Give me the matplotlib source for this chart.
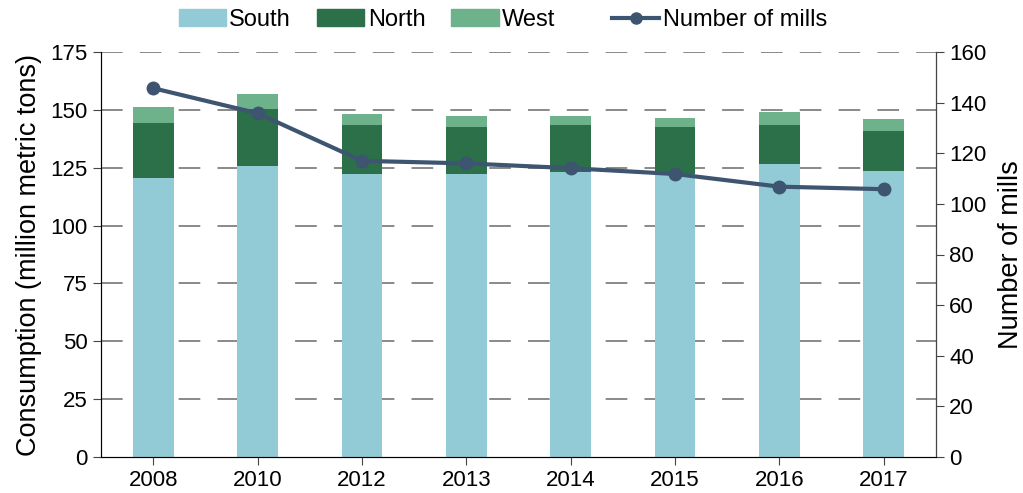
import matplotlib.pyplot as plt
import numpy as np
from matplotlib.patches import Patch
from matplotlib.lines import Line2D

plt.rcParams['font.family'] = ['Liberation Sans', 'DejaVu Sans']

years = ['2008', '2010', '2012', '2013', '2014', '2015', '2016', '2017']
south = [120.4, 125.8, 122.2, 122.2, 123.0, 122.3, 126.6, 123.6]
north_top = [144.5, 150.5, 143.5, 142.7, 143.6, 142.7, 143.6, 141.0]
west_top = [151.4, 156.7, 148.2, 147.4, 147.4, 146.6, 149.0, 145.9]
mills = [145.7, 135.8, 117.0, 116.0, 114.1, 111.8, 106.8, 105.8]

north = [n - s for n, s in zip(north_top, south)]
west = [w - n for w, n in zip(west_top, north_top)]

c_south = '#92cbd5'
c_north = '#2b7048'
c_west = '#6db28a'
c_line = '#3d5570'

fig = plt.figure(figsize=(10.23, 4.93), dpi=100)
ax = fig.add_axes([101/1023, 1-457/493, (936-101)/1023, (457-52)/493])
x = np.arange(len(years))
w = 0.39

ax.bar(x, south, w, color=c_south, zorder=2)
ax.bar(x, north, w, bottom=south, color=c_north, zorder=2)
ax.bar(x, west, w, bottom=north_top, color=c_west, zorder=2)

ax.set_ylim(0, 175)
ax.set_yticks(range(0, 176, 25))
ax.set_xlim(-0.5, len(years) - 0.5)
ax.set_xticks(x)
ax.set_xticklabels(years)
for yv in range(25, 176, 25):
    ax.axhline(yv, color='#808080', lw=1.3, dashes=(12, 9.5), zorder=1)
ax.set_ylabel('Consumption (million metric tons)', fontsize=19.5, labelpad=6)
ax.tick_params(labelsize=16, length=6, color='#444444')
ax.spines['top'].set_visible(False)
ax.spines['left'].set_color('#444444')
ax.spines['bottom'].set_color('#444444')

ax2 = ax.twinx()
ax2.plot(x, mills, color=c_line, lw=3, marker='o', ms=9, zorder=3)
ax2.set_ylim(0, 160)
ax2.set_yticks(range(0, 161, 20))
ax2.set_ylabel('Number of mills', fontsize=19.5, labelpad=8)
ax2.tick_params(labelsize=16, length=6, color='#444444')
ax2.spines['top'].set_visible(False)
ax2.spines['right'].set_color('#444444')

bar_handles = [Patch(color=c_south, label='South'),
               Patch(color=c_north, label='North'),
               Patch(color=c_west, label='West')]
line_handle = [Line2D([], [], color=c_line, lw=3, marker='o', ms=8, label='Number of mills')]

fig.legend(handles=bar_handles, loc='center', bbox_to_anchor=(367/1023, 1-20/493), ncol=3,
           frameon=False, fontsize=17, handlelength=2.0, handletextpad=0.15,
           columnspacing=1.1, borderaxespad=0, borderpad=0)
fig.legend(handles=line_handle, loc='center left', bbox_to_anchor=(612/1023, 1-20/493),
           frameon=False, fontsize=17, handlelength=2.0, handletextpad=0.15,
           borderaxespad=0, borderpad=0)

fig.savefig('out.png', dpi=100)
